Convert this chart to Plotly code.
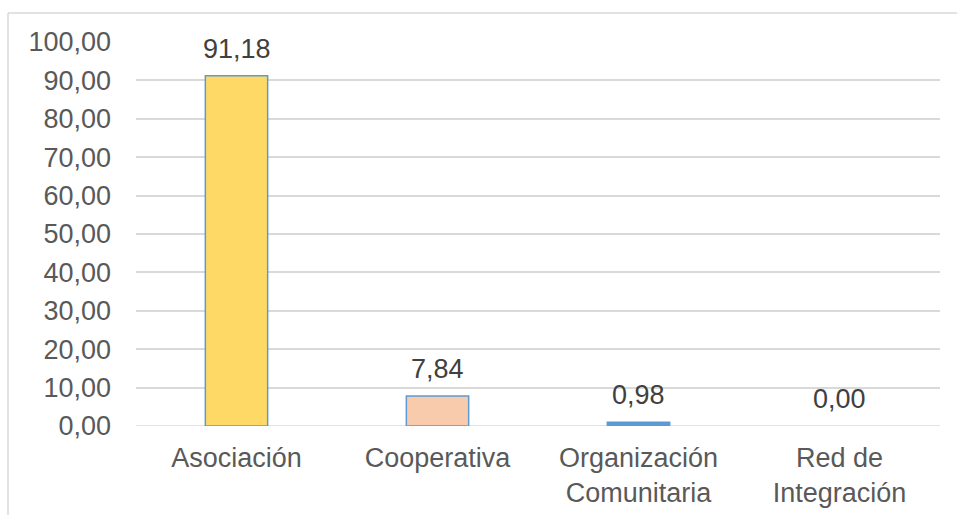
import plotly.graph_objects as go

categories = ["Asociación", "Cooperativa", "Organización<br>Comunitaria", "Red de<br>Integración"]
values = [91.18, 7.84, 0.98, 0.00]
bar_colors = ["#FFD966", "#F8CBAD", "#5B9BD5", "#5B9BD5"]
y_ticks = [0, 10, 20, 30, 40, 50, 60, 70, 80, 90, 100]

FONT = "Liberation Sans, Arial, sans-serif"
FS = 27

fig = go.Figure(go.Bar(
    x=categories,
    y=values,
    marker=dict(color=bar_colors,
                line=dict(color="#5B9BD5", width=[1.5 if v > 0 else 0 for v in values])),
    width=0.31,
    hoverinfo="x+y",
))

for c, v in zip(categories, values):
    fig.add_annotation(x=c, y=v, text=f"{v:.2f}".replace(".", ","), showarrow=False,
                       yanchor="bottom", yshift=10,
                       font=dict(family=FONT, size=FS, color="#404040"))

W, H = 957, 515
L, R, T, B = 136, 17, 42, 89
pw, ph = W - L - R, H - T - B

def px(x):
    return (x - L) / pw

def py(y):
    return (H - B - y) / ph

border = "#D9D9D9"
fig.update_layout(
    width=W, height=H,
    margin=dict(l=L, r=R, t=T, b=B, autoexpand=False),
    separators=",.",
    plot_bgcolor="white", paper_bgcolor="white",
    showlegend=False,
    font=dict(family=FONT, size=FS, color="#595959"),
    xaxis=dict(showgrid=False, showline=False, ticks="", ticklabelstandoff=13, automargin=False,
               tickfont=dict(size=FS, color="#595959")),
    yaxis=dict(range=[0, 100], tickvals=y_ticks, tickformat=".2f", showgrid=True, automargin=False,
               gridcolor=border, gridwidth=1.5, zeroline=False, showline=False,
               ticks="", ticklabelstandoff=24, tickfont=dict(size=FS, color="#595959")),
    shapes=[
        dict(type="line", xref="paper", yref="paper", x0=px(8), x1=px(957), y0=py(13), y1=py(13),
             line=dict(color=border, width=1.5)),
        dict(type="line", xref="paper", yref="paper", x0=px(8), x1=px(8), y0=py(13), y1=py(515),
             line=dict(color=border, width=1.5)),
        dict(type="line", xref="paper", yref="y", x0=0, x1=1, y0=0, y1=0,
             line=dict(color=border, width=1.5), layer="below"),
    ],
)

fig.write_html("out.html", config={"displayModeBar": False},
               post_script="document.body.style.margin='0';document.body.style.overflow='hidden';")
